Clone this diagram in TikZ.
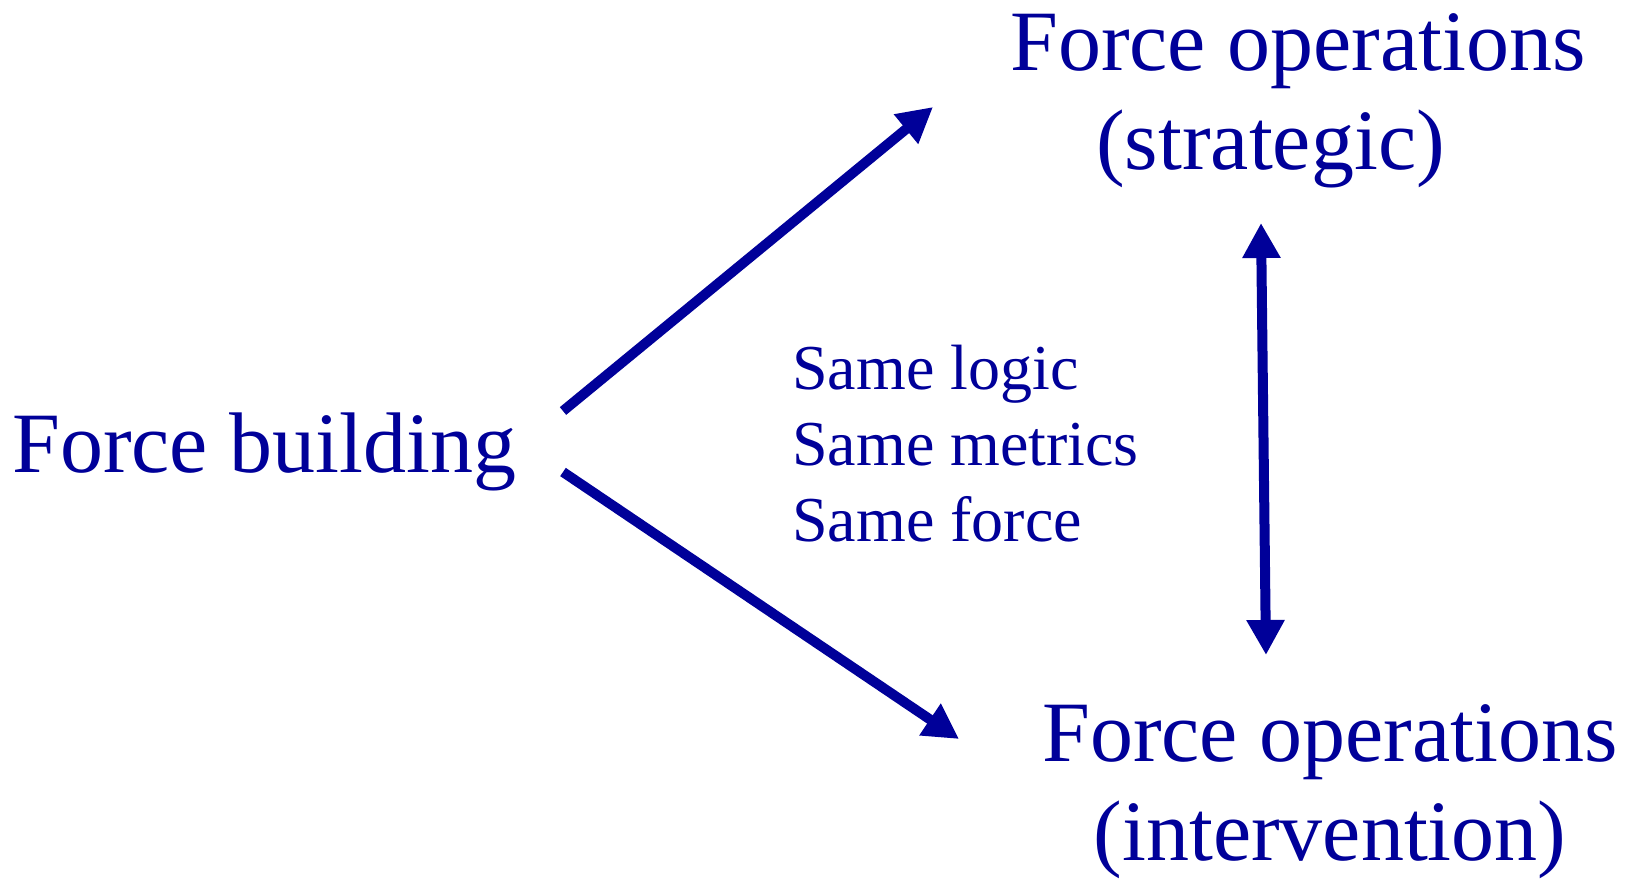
\documentclass[tikz,border=0pt]{standalone}
\usepackage{fontspec}
\setmainfont{Liberation Serif}
\usetikzlibrary{arrows.meta}
\definecolor{forceblue}{RGB}{0,0,153}
\tikzset{
  bigarrow/.style={forceblue, line width=10pt, -{Triangle[length=35pt,width=36pt]}},
  bigtext/.style={forceblue, inner sep=0pt, font=\fontsize{86}{99}\selectfont},
  smalltext/.style={forceblue, inner sep=0pt, align=left, font=\fontsize{64}{76}\selectfont}
}
\begin{document}
\begin{tikzpicture}[x=1pt, y=-1pt]
  \useasboundingbox (0,0) rectangle (1625,880);
  % Texts (base = last line)
  \node[bigtext, anchor=base west] (build) at (12,472) {Force building};
  \node[bigtext, anchor=base west, align=left] (strat) at (1010,169)
    {Force operations\\\hspace*{86pt}(strategic)};
  \node[bigtext, anchor=base, align=center] (interv) at (1330,860)
    {Force operations\\(intervention)};
  \node[smalltext, anchor=base west] (same) at (792,541)
    {Same logic\\Same metrics\\Same force};
  % Arrow ends
  \coordinate (upfrom) at (563,411);
  \coordinate (upto) at (933,107);
  \coordinate (downfrom) at (563,472);
  \coordinate (downto) at (959,739);
  \coordinate (vtop) at (1261,223);
  \coordinate (vbot) at (1266,655);
  % Arrows
  \draw[bigarrow] (upfrom) -- (upto);
  \draw[bigarrow] (downfrom) -- (downto);
  \draw[bigarrow, {Triangle[length=35pt,width=36pt]}-{Triangle[length=35pt,width=36pt]}] (vtop) -- (vbot);
\end{tikzpicture}
\end{document}
